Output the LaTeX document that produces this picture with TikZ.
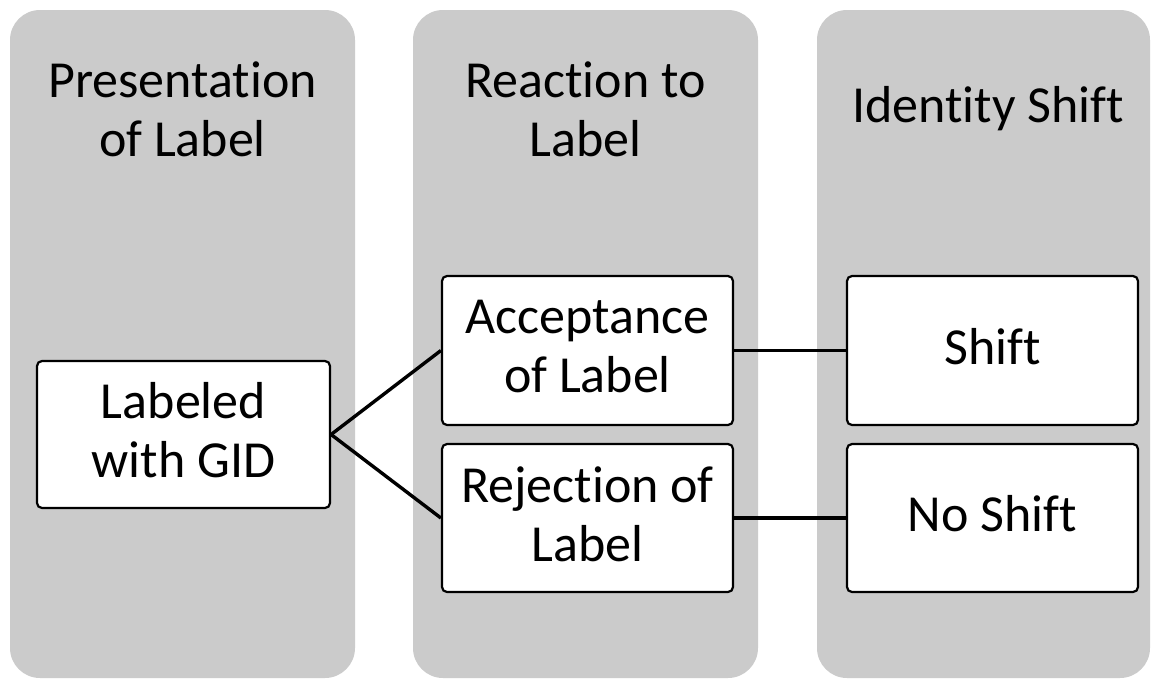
\documentclass[tikz,border=0pt]{standalone}
\usepackage{fontspec}
\setmainfont{Carlito}[Ligatures=NoCommon]
\definecolor{colgray}{HTML}{CBCBCB}
\begin{document}
\begin{tikzpicture}[x=1pt,y=-1pt,
  column/.style={fill=colgray, draw=none, rounded corners=30pt},
  title/.style={align=center, font=\fontsize{52}{59}\selectfont, inner sep=0pt},
  stepbox/.style={draw=black, fill=white, line width=2.2pt, rounded corners=5pt, inner sep=0pt},
  boxtext/.style={title, label distance=0pt, yshift=4pt},
  link/.style={draw=black, line width=3.4pt}
]
\useasboundingbox (0,0) rectangle (1160,681);
\fill[column] (10,10) rectangle (355,678);
\fill[column] (413,10) rectangle (758,678);
\fill[column] (817,10) rectangle (1150,678);

\node[title] (t1) at (182.5,109) {Presentation\\of Label};
\node[title] (t2) at (585.5,109) {Reaction to\\Label};
\node[title] (t3) at (988,109) {Identity Shift};

\node[stepbox, minimum width=293pt, minimum height=147pt,
  label={[boxtext]center:Labeled\\with GID}] (gid) at (183.5,434.5) {};
\node[stepbox, minimum width=291pt, minimum height=149pt,
  label={[boxtext]center:Acceptance\\of Label}] (acc) at (587.5,350.5) {};
\node[stepbox, minimum width=291pt, minimum height=148pt,
  label={[boxtext]center:Rejection of\\Label}] (rej) at (587.5,518) {};
\node[stepbox, minimum width=291pt, minimum height=149pt,
  label={[boxtext]center:Shift}] (sh) at (992.5,350.5) {};
\node[stepbox, minimum width=291pt, minimum height=148pt,
  label={[boxtext]center:No Shift}] (nsh) at (992.5,518) {};

\draw[link] (gid.east) -- (acc.west);
\draw[link] (gid.east) -- (rej.west);
\draw[link] (acc.east) -- (sh.west);
\draw[link] (rej.east) -- (nsh.west);
\end{tikzpicture}
\end{document}
